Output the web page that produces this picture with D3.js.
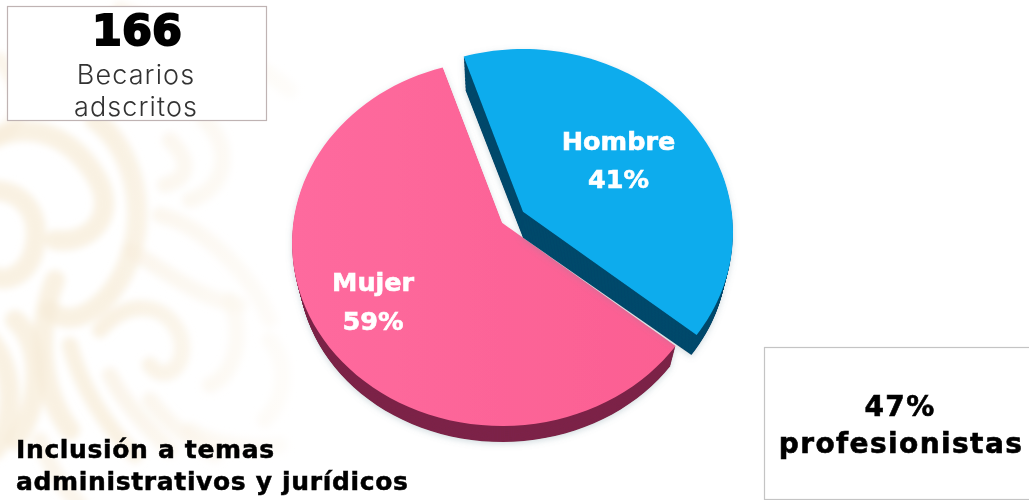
<!DOCTYPE html>
<html><head><meta charset="utf-8">
<script src="https://cdn.jsdelivr.net/npm/d3@7"></script>
<style>html,body{margin:0;padding:0;background:#fff;overflow:hidden}svg{display:block}</style>
</head><body><div id="c"></div>
<script>
// ---- data
const categories = ["Hombre", "Mujer"];
const values = [41, 59];
const percentLabels = ["41%", "59%"];
const faceColors = ["#0aaced", "#fd6699"];
const sideColors = ["#03496c", "#7c2448"];
const headlineBox = ["166", "Becarios", "adscritos"];
const sideBox = ["47%", "profesionistas"];
const caption = ["Inclusión a temas", "administrativos y jurídicos"];

const W = 1029, H = 500;
const svg = d3.select("#c").append("svg").attr("width", W).attr("height", H);
const defs = svg.append("defs");
defs.append("filter").attr("id","bgblur").attr("x","-20%").attr("y","-20%").attr("width","140%").attr("height","140%")
  .append("feGaussianBlur").attr("stdDeviation",3.5);
const sh = defs.append("filter").attr("id","shadow").attr("x","-10%").attr("y","-10%").attr("width","120%").attr("height","120%");
sh.append("feDropShadow").attr("dx",0).attr("dy",2).attr("stdDeviation",3).attr("flood-color","#6f8f9a").attr("flood-opacity",0.3);
defs.append("filter").attr("id","soft").append("feGaussianBlur").attr("stdDeviation",0.45);
const grad = defs.append("linearGradient").attr("id","pinkFace").attr("x1",0).attr("x2",1).attr("y1",0).attr("y2",0);
grad.append("stop").attr("offset",0).attr("stop-color","#fe6a9e");
grad.append("stop").attr("offset",1).attr("stop-color","#fb5f92");

// ---- faint ornament in the background
const ornament = [
 "M-10,140 C30,120 70,135 95,175 C120,215 90,245 55,240",
 "M95,120 C135,150 150,215 125,270 C105,310 70,330 50,310",
 "M-10,190 C25,190 40,215 35,245 C30,275 5,285 -10,275",
 "M55,280 C35,330 40,390 70,430",
 "M15,320 C45,345 40,410 15,440",
 "M-10,340 C15,370 15,420 -5,450",
 "M100,330 C125,300 165,300 180,335 C190,365 165,385 150,365",
 "M70,345 C80,385 105,425 135,455",
 "M110,375 C125,405 150,430 170,450",
 "M150,400 C170,425 190,440 215,455",
 "M130,250 C165,270 200,300 240,305",
 "M160,215 C200,225 250,270 270,320",
 "M205,120 C235,150 225,190 190,200",
 "M170,140 C195,165 185,180 165,185",
 "M230,300 C245,335 235,375 210,385",
 "M270,340 C290,365 285,400 265,420",
 "M40,440 C50,470 65,490 80,505",
 "M190,430 C215,445 250,450 280,445",
 "M0,60 C25,90 25,120 0,135",
 "M120,10 C170,30 230,40 290,90"
];
const orn = svg.append("g").attr("filter","url(#bgblur)").attr("fill","none").attr("stroke-linecap","round");
orn.selectAll("path").data(ornament).join("path").attr("d",d=>d)
  .attr("stroke","#f7ecd8").attr("stroke-width",(d,i)=>i<6?20:16).attr("stroke-opacity",(d,i)=>i<8?0.75:0.5);
// fade to the right
const fade = defs.append("linearGradient").attr("id","fade").attr("x1",0).attr("x2",1);
fade.append("stop").attr("offset",0).attr("stop-color","#fff").attr("stop-opacity",0);
fade.append("stop").attr("offset",1).attr("stop-color","#fff").attr("stop-opacity",0.85);
svg.append("rect").attr("x",110).attr("y",0).attr("width",210).attr("height",H).attr("fill","url(#fade)");

// ---- perspective disc: unit disc -> ellipse, centre pushed upward
const cx = 502, cy = 243, rx = 210, ry = 183, k = -0.11;
const startAngle = -18.3 * Math.PI / 180;
const explode = { Hombre: [21, -11], Mujer: [0, 0] };
const depth = 25;

function project(theta, r, z, off) {
  const u = r * Math.sin(theta), v = -r * Math.cos(theta);
  const den = 1 + k * v;
  const X = u * Math.sqrt(1 - k * k) / den, Y = (v + k) / den;
  const shrinkX = 1 - 0.03 * z;
  return [cx + off[0] + rx * X * shrinkX,
          cy + off[1] + ry * Y + z * (depth - 9 * Y)];
}

const pie = d3.pie().sort(null).startAngle(startAngle).endAngle(startAngle + 2 * Math.PI);
const arcs = pie(values).map((a, i) => ({ ...a, name: categories[i], idx: i, off: explode[categories[i]] }));
const line = d3.line();
function sector(a, z) {
  const pts = [project(0, 0, z, a.off)];
  d3.range(0, 81).forEach(i => {
    const t = d3.scaleLinear().domain([0, 80]).range([a.startAngle, a.endAngle])(i);
    pts.push(project(t, 1, z, a.off));
  });
  return line(pts) + "Z";
}

const layers = d3.range(1, 0, -1 / 24);
const order = [arcs[1], arcs[0]];
order.forEach(a => {
  const g = svg.append("g").attr("filter", "url(#shadow)");
  g.selectAll("path.side").data(layers).join("path").attr("class", "side")
    .attr("d", z => sector(a, z)).attr("fill", sideColors[a.idx]);
  g.append("path").attr("d", sector(a, 0)).attr("fill", a.name === "Mujer" ? "url(#pinkFace)" : faceColors[a.idx]);
});

// ---- slice labels
const labelPlace = { Hombre: { r: 0.6, dx: -4, dy: -3, gap: 38 }, Mujer: { r: 0.7, dx: -3, dy: -7, gap: 39 } };
const labelFont = "'DejaVu Sans', sans-serif";
arcs.forEach(a => {
  const lp = labelPlace[a.name];
  const mid = (a.startAngle + a.endAngle) / 2;
  const p = project(mid, lp.r, 0, a.off);
  const t = svg.append("g").attr("filter","url(#soft)").attr("fill", "#fff").attr("stroke","#fff").attr("stroke-width",0.6)
    .attr("font-family", labelFont).attr("font-weight", 700).attr("font-size", 25.5).attr("text-anchor", "middle");
  t.append("text").attr("x", p[0] + lp.dx).attr("y", p[1] + lp.dy).text(a.name);
  t.append("text").attr("x", p[0] + lp.dx).attr("y", p[1] + lp.dy + lp.gap).text(percentLabels[a.idx]);
});

// ---- boxes
svg.append("rect").attr("x", 7.5).attr("y", 6.5).attr("width", 259).attr("height", 114)
  .attr("fill", "#fff").attr("stroke", "#bfb3b3").attr("stroke-width", 1.2);
svg.append("rect").attr("x", 764.5).attr("y", 347.5).attr("width", 270).attr("height", 152)
  .attr("fill", "#fff").attr("stroke", "#c4c4c4").attr("stroke-width", 1.2);

const tg = svg.append("g").attr("filter","url(#soft)");
tg.append("text").attr("x", 137).attr("y", 45).attr("text-anchor", "middle")
  .attr("font-family", labelFont).attr("font-weight", 700).attr("font-size", 43)
  .attr("stroke","#000").attr("stroke-width",2).attr("fill", "#000").text(headlineBox[0]);
[84, 116].forEach((y, i) => tg.append("text").attr("x", 136).attr("y", y).attr("text-anchor", "middle")
  .attr("font-family", "Inter, sans-serif").attr("font-weight", 300).attr("font-size", 27).attr("letter-spacing", 1.1)
  .attr("fill", "#333").text(headlineBox[i + 1]));

[[900, 416], [901, 453]].forEach((p, i) => tg.append("text").attr("x", p[0]).attr("y", p[1]).attr("text-anchor", "middle")
  .attr("font-family", labelFont).attr("font-weight", 700).attr("font-size", 28).attr("letter-spacing", 1.4)
  .attr("stroke","#000").attr("stroke-width",0.6).attr("fill", "#000").text(sideBox[i]));

[458, 490].forEach((y, i) => tg.append("text").attr("x", 16).attr("y", y)
  .attr("font-family", labelFont).attr("font-weight", 700).attr("font-size", 25).attr("letter-spacing", 0.65)
  .attr("stroke","#000").attr("stroke-width",0.5).attr("fill", "#000").text(caption[i]));
</script></body></html>
